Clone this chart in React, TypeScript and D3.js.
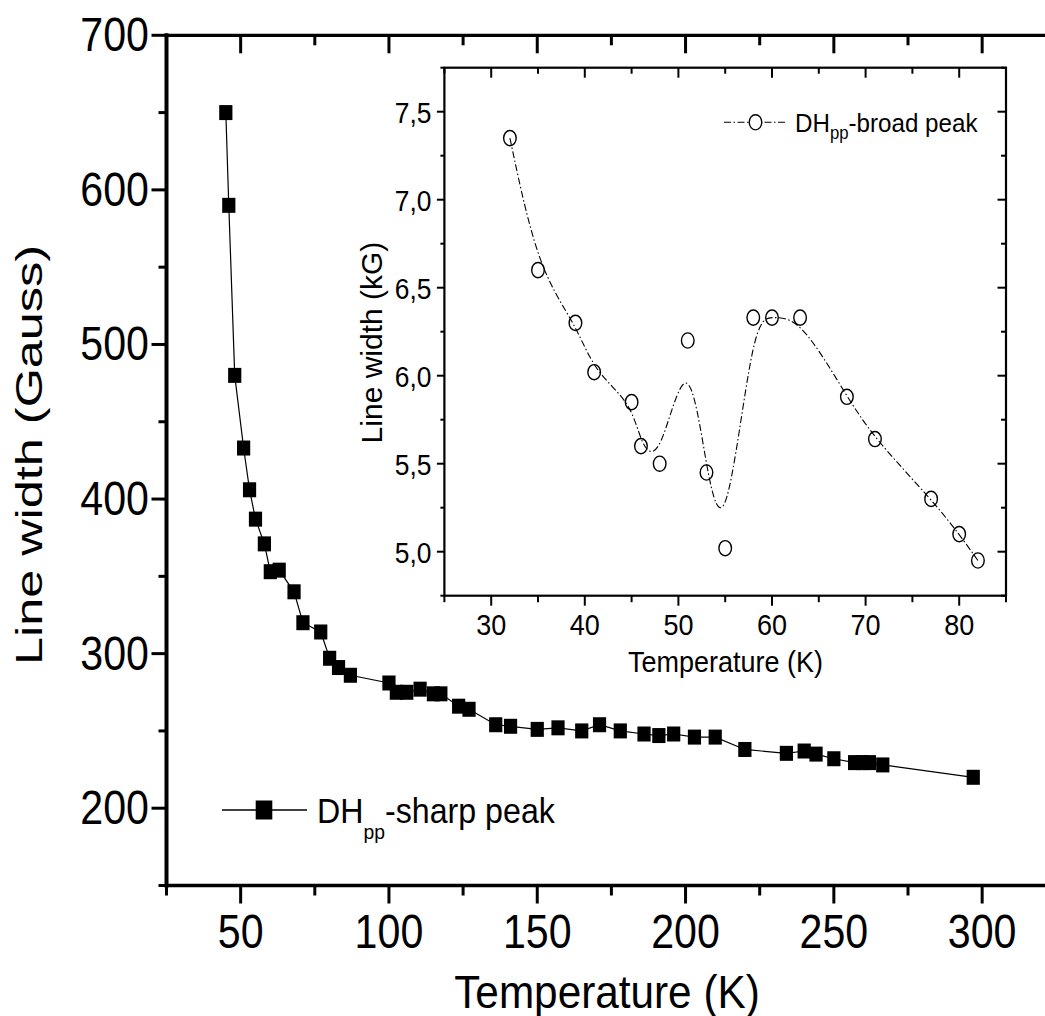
import React from "react";
import * as d3 from "d3";

// ---------- Main plot data (DHpp - sharp peak) ----------
const mainT = [45, 46, 48, 51, 53, 55, 58, 60, 63, 68, 71, 77, 80, 83, 87, 100, 102.5, 106, 110.5, 115, 117.5, 123.5, 127, 136, 141, 150, 157, 165, 171, 178, 186, 191, 196, 203, 210, 220, 234, 240, 244, 250, 257, 259.5, 262, 266.5, 297];
const mainW = [650, 590, 480, 433, 406, 387, 371, 353, 354, 340, 320, 314, 297, 291, 286, 281, 275, 275, 277, 274, 274, 266, 264, 254, 253, 251, 252, 250, 254, 250, 248, 247, 248, 246, 246, 238, 235.5, 237, 235, 232, 229.5, 229.5, 229.5, 228, 220];

// ---------- Inset data (DHpp - broad peak) ----------
const insetT = [32, 35, 39, 41, 45, 46, 48, 51, 53, 55, 58, 60, 63, 68, 71, 77, 80, 82];
const insetW = [7.35, 6.6, 6.3, 6.02, 5.85, 5.6, 5.5, 6.2, 5.45, 5.02, 6.33, 6.33, 6.33, 5.88, 5.64, 5.3, 5.1, 4.95];

// ---------- Ticks ----------
const mainXMajor = [50, 100, 150, 200, 250, 300];
const mainXMinor = [25, 75, 125, 175, 225, 275, 325];
const mainYMajor = [200, 300, 400, 500, 600, 700];
const mainYMinor = [150, 250, 350, 450, 550, 650];
const insetXMajor = [30, 40, 50, 60, 70, 80];
const insetXMinor = [25, 35, 45, 55, 65, 75, 85];
const insetYMajor = [5.0, 5.5, 6.0, 6.5, 7.0, 7.5];
const insetYMinor = [4.75, 5.25, 5.75, 6.25, 6.75, 7.25, 7.75];

const FONT = "'Liberation Sans', Arial, Helvetica, sans-serif";

const commaFmt = d3.formatLocale({ decimal: ",", thousands: ".", grouping: [3], currency: ["", ""] }).format(".1f");

export default function App() {
  const W = 1045, H = 1016;
  // main scales
  const x = d3.scaleLinear().domain([25, 325]).range([166.5, 1056.3]);
  const y = d3.scaleLinear().domain([150, 700]).range([885.5, 35.3]);
  // inset scales
  const ix = d3.scaleLinear().domain([25, 85]).range([444.4, 1006]);
  const iy = d3.scaleLinear().domain([4.75, 7.75]).range([595.7, 67.7]);

  const mainPts = mainT.map((t, i) => [t, mainW[i]] as [number, number]);
  const insetPts = insetT.map((t, i) => [t, insetW[i]] as [number, number]);

  const mainLine = d3.line<[number, number]>().x(d => x(d[0])).y(d => y(d[1])).curve(d3.curveLinear)(mainPts) || "";
  const insetLine = d3.line<[number, number]>().x(d => ix(d[0])).y(d => iy(d[1])).curve(d3.curveBasis)(insetPts) || "";

  const [x0, x1] = x.range();
  const [yb, yt] = y.range();
  const [ix0, ix1] = ix.range();
  const [iyb, iyt] = iy.range();

  const dashDot = "7,2.5,1.5,2.5";

  return (
    <svg width={W} height={H} style={{ position: "absolute", left: 0, top: 0, background: "#fff" }} fontFamily={FONT}>
      <rect x={0} y={0} width={W} height={H} fill="#fff" />

      {/* ===== Main frame ===== */}
      <g stroke="#000" strokeLinecap="square">
        <line x1={x0} y1={yb} x2={x1} y2={yb} strokeWidth={3.5} />
        <line x1={x0} y1={yt} x2={x1} y2={yt} strokeWidth={3.3} />
        <line x1={x0} y1={yt} x2={x0} y2={yb} strokeWidth={4} />
        <line x1={x1} y1={yt} x2={x1} y2={yb} strokeWidth={3.5} />
      </g>
      {/* bottom ticks (outward) */}
      <g stroke="#000" strokeWidth={3}>
        {mainXMajor.map(v => <line key={"bx" + v} x1={x(v)} x2={x(v)} y1={yb} y2={yb + 18} />)}
        {mainXMinor.map(v => <line key={"bxm" + v} x1={x(v)} x2={x(v)} y1={yb} y2={yb + 10} />)}
        {/* top ticks (inward) */}
        {mainXMajor.map(v => <line key={"tx" + v} x1={x(v)} x2={x(v)} y1={yt} y2={yt + 18} />)}
        {mainXMinor.map(v => <line key={"txm" + v} x1={x(v)} x2={x(v)} y1={yt} y2={yt + 10} />)}
        {/* left ticks (outward) */}
        {mainYMajor.map(v => <line key={"ly" + v} x1={x0 - 15} x2={x0} y1={y(v)} y2={y(v)} />)}
        {mainYMinor.map(v => <line key={"lym" + v} x1={x0 - 8} x2={x0} y1={y(v)} y2={y(v)} />)}
      </g>
      {/* tick labels */}
      <g fontSize={49} fill="#000">
        {mainXMajor.map(v => (
          <text key={"xl" + v} transform={`translate(${x(v)},948) scale(0.84,1)`} textAnchor="middle">{v}</text>
        ))}
        {mainYMajor.map(v => (
          <text key={"yl" + v} transform={`translate(149,${y(v) + 16}) scale(0.84,1)`} textAnchor="end">{v}</text>
        ))}
      </g>
      {/* axis titles */}
      <text transform={`translate(607,1008) scale(0.9,1)`} textAnchor="middle" fontSize={47}>Temperature (K)</text>
      <text transform={`translate(42,455) rotate(-90) scale(1,0.75)`} textAnchor="middle" fontSize={50.4}>Line width (Gauss)</text>

      {/* main series */}
      <path d={mainLine} fill="none" stroke="#000" strokeWidth={1.2} />
      {mainPts.map((d, i) => (
        <rect key={"m" + i} x={x(d[0]) - 6.6} y={y(d[1]) - 7.5} width={13.2} height={15} fill="#000" />
      ))}

      {/* main legend */}
      <line x1={222} x2={307} y1={810} y2={810} stroke="#000" strokeWidth={1.3} />
      <rect x={264 - 8.3} y={810 - 9.5} width={16.6} height={19} fill="#000" />
      <text transform="translate(317,823.3) scale(0.92,1)" fontSize={35}>
        <tspan>DH</tspan>
        <tspan fontSize={21} dy={16}>pp</tspan>
        <tspan dy={-16}>-sharp peak</tspan>
      </text>

      {/* ===== Inset ===== */}
      <rect x={ix0} y={iyt} width={ix1 - ix0} height={iyb - iyt} fill="#fff" stroke="#000" strokeWidth={2.2} />
      <g stroke="#000" strokeWidth={2}>
        {insetXMajor.map(v => <line key={"ibx" + v} x1={ix(v)} x2={ix(v)} y1={iyb} y2={iyb + 10} />)}
        {insetXMinor.map(v => <line key={"ibxm" + v} x1={ix(v)} x2={ix(v)} y1={iyb} y2={iyb + 6.5} />)}
        {insetXMajor.map(v => <line key={"itx" + v} x1={ix(v)} x2={ix(v)} y1={iyt} y2={iyt + 10} />)}
        {insetXMinor.map(v => <line key={"itxm" + v} x1={ix(v)} x2={ix(v)} y1={iyt} y2={iyt + 6} />)}
        {insetYMajor.map(v => <line key={"ily" + v} x1={ix0 - 7.5} x2={ix0} y1={iy(v)} y2={iy(v)} />)}
        {insetYMinor.map(v => <line key={"ilym" + v} x1={ix0 - 4} x2={ix0} y1={iy(v)} y2={iy(v)} />)}
        {insetYMajor.map(v => <line key={"iry" + v} x1={ix1 - 8.5} x2={ix1} y1={iy(v)} y2={iy(v)} />)}
        {insetYMinor.map(v => <line key={"irym" + v} x1={ix1 - 5} x2={ix1} y1={iy(v)} y2={iy(v)} />)}
      </g>
      <g fontSize={30} fill="#000">
        {insetXMajor.map(v => (
          <text key={"ixl" + v} transform={`translate(${ix(v)},635) scale(0.9,1)`} textAnchor="middle">{v}</text>
        ))}
        {insetYMajor.map(v => (
          <text key={"iyl" + v} transform={`translate(431.5,${iy(v) + 10.8}) scale(0.88,1)`} textAnchor="end">{commaFmt(v)}</text>
        ))}
      </g>
      <text transform="translate(725.5,671.5) scale(0.9,1)" textAnchor="middle" fontSize={30}>Temperature (K)</text>
      <text transform="translate(381.5,342.5) rotate(-90)" textAnchor="middle" fontSize={30}>Line width (kG)</text>

      {/* inset series */}
      <path d={insetLine} fill="none" stroke="#000" strokeWidth={1.1} strokeDasharray={dashDot} />
      {insetPts.map((d, i) => (
        <ellipse key={"c" + i} cx={ix(d[0])} cy={iy(d[1])} rx={6.3} ry={7.6} fill="none" stroke="#000" strokeWidth={1.4} />
      ))}

      {/* inset legend */}
      <line x1={724} x2={787} y1={122.3} y2={122.3} stroke="#000" strokeWidth={1.1} strokeDasharray={dashDot} />
      <ellipse cx={755.5} cy={122.3} rx={6.3} ry={7.6} fill="#fff" stroke="#000" strokeWidth={1.4} />
      <text transform="translate(795,131.7) scale(0.93,1)" fontSize={26}>
        <tspan>DH</tspan>
        <tspan fontSize={18} dy={7.6}>pp</tspan>
        <tspan dy={-7.6}>-broad peak</tspan>
      </text>
    </svg>
  );
}
